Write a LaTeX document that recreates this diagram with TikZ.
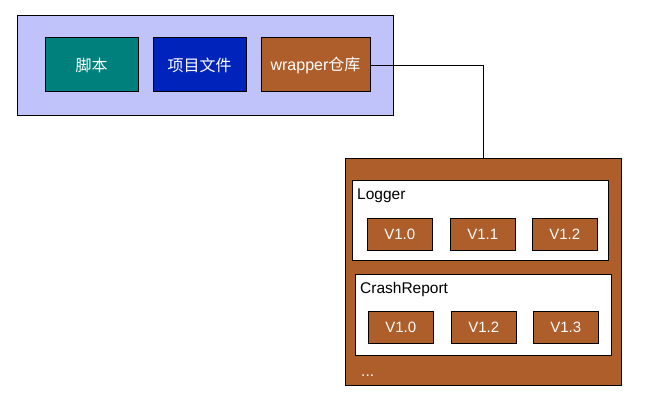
\documentclass[tikz,border=0pt]{standalone}
\usepackage{fontspec}
\setmainfont{Liberation Sans}
\newfontfamily\cjk{Noto Sans CJK SC}
\definecolor{lav}{RGB}{192,195,250}
\definecolor{tealbox}{RGB}{0,128,124}
\definecolor{bluebox}{RGB}{0,36,187}
\definecolor{brownbox}{RGB}{173,94,43}
\tikzset{
  box/.style={draw=black, line width=1pt, rectangle, inner sep=0pt},
  topbox/.style={box, minimum width=93pt, minimum height=54pt, text=white, font=\fontsize{16}{18}\selectfont},
  verbox/.style={box, fill=brownbox, minimum width=65pt, minimum height=31.5pt, text=white, font=\fontsize{15}{17}\selectfont},
  grpbox/.style={box, fill=white, minimum width=256pt},
  lbl/.style={anchor=base west, inner sep=0pt, font=\fontsize{15.5}{17}\selectfont},
  conn/.style={draw=black, line width=0.8pt}
}
\begin{document}
\begin{tikzpicture}[x=1pt,y=-1pt]
\useasboundingbox (0,0) rectangle (648,406);
% top container
\node[box, fill=lav, minimum width=376pt, minimum height=100pt] (top) at (205,66) {};
\node[topbox, fill=tealbox] (script) at (91.5,65) {\cjk 脚本};
\node[topbox, fill=bluebox] (proj) at (199.5,65) {\cjk 项目文件};
\node[topbox, fill=brownbox, minimum width=109pt] (wrap) at (315.5,65) {wrapper{\cjk 仓库}};
% repository
\node[box, fill=brownbox, minimum width=276pt, minimum height=226pt] (repo) at (483,272) {};
\draw[conn] (wrap.east) -| (repo.north);
% Logger group
\node[grpbox, minimum height=80pt] (logger) at (480,221) {};
\node[lbl] (loggerlbl) at (357,200) {Logger};
\node[verbox] (l10) at (399.8,234.3) {V1.0};
\node[verbox] (l11) at (482.8,234.3) {V1.1};
\node[verbox] (l12) at (564.8,234.3) {V1.2};
% CrashReport group
\node[grpbox, minimum height=81pt] (crash) at (483,314.5) {};
\node[lbl] (crashlbl) at (360,293.3) {CrashReport};
\node[verbox] (c10) at (400.8,327.3) {V1.0};
\node[verbox] (c12) at (483.8,327.3) {V1.2};
\node[verbox] (c13) at (565.8,327.3) {V1.3};
% more
\node[lbl, text=white] (more) at (361,376) {...};
\end{tikzpicture}
\end{document}
